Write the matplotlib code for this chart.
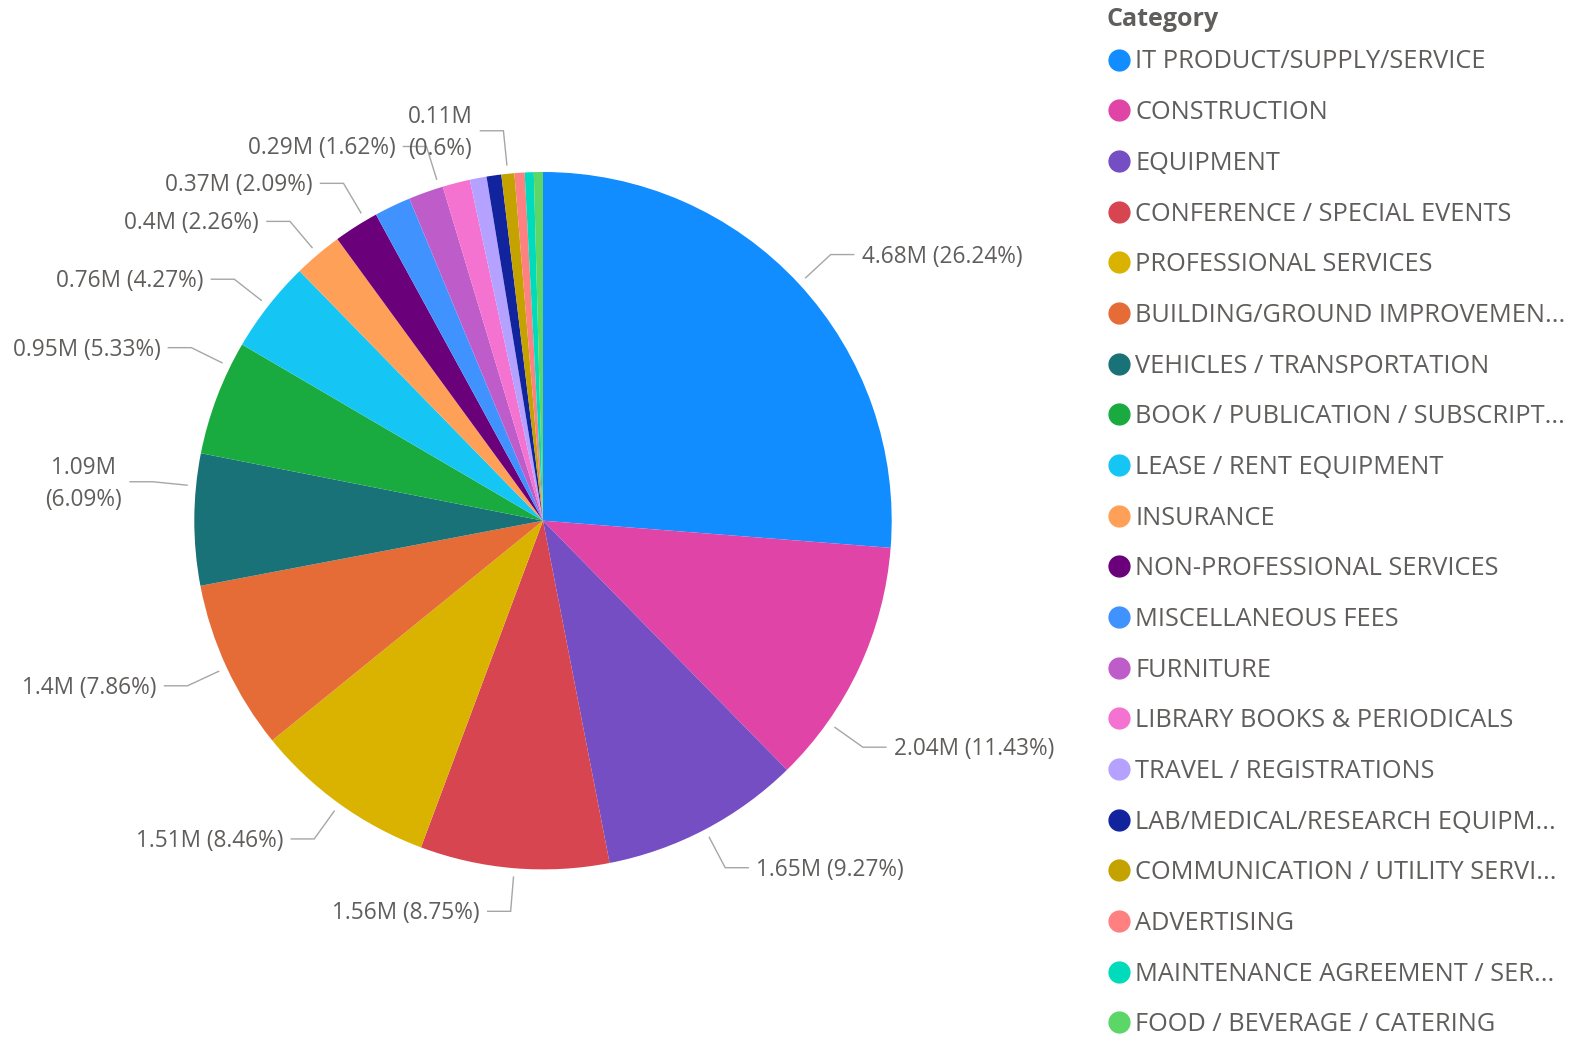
import numpy as np
import matplotlib
matplotlib.use("Agg")
import matplotlib.pyplot as plt
from matplotlib.lines import Line2D

# ---------------- data ----------------
categories = [
    "IT PRODUCT/SUPPLY/SERVICE",
    "CONSTRUCTION",
    "EQUIPMENT",
    "CONFERENCE / SPECIAL EVENTS",
    "PROFESSIONAL SERVICES",
    "BUILDING/GROUND IMPROVEMEN...",
    "VEHICLES / TRANSPORTATION",
    "BOOK / PUBLICATION / SUBSCRIPT...",
    "LEASE / RENT EQUIPMENT",
    "INSURANCE",
    "NON-PROFESSIONAL SERVICES",
    "MISCELLANEOUS FEES",
    "FURNITURE",
    "LIBRARY BOOKS & PERIODICALS",
    "TRAVEL / REGISTRATIONS",
    "LAB/MEDICAL/RESEARCH EQUIPM...",
    "COMMUNICATION / UTILITY SERVI...",
    "ADVERTISING",
    "MAINTENANCE AGREEMENT / SER...",
    "FOOD / BEVERAGE / CATERING",
]
share_pct = [26.24, 11.43, 9.27, 8.75, 8.46, 7.86, 6.09, 5.33, 4.27, 2.26,
             2.09, 1.69, 1.62, 1.27, 0.78, 0.68, 0.60, 0.47, 0.42, 0.42]
total_millions = 17.835
colors = ["#118DFF", "#E044A7", "#744EC2", "#D64550", "#D9B300", "#E66C37",
          "#197278", "#1AAB40", "#15C6F4", "#FFA058", "#6B007B", "#4092FF",
          "#BE5DC9", "#F472D0", "#B5A1FF", "#12239E", "#C4A200", "#FF8080",
          "#00DBBC", "#5BD667"]
values = [p / 100.0 * total_millions for p in share_pct]

# labels that are shown in the reference (others hidden by collision)
labeled = [0, 1, 2, 3, 4, 5, 6, 7, 8, 9, 10, 12, 16]
wrapped = {6, 16}
angle_override = {1: -35.3, 6: 174.3, 7: 153.8, 10: 120.6, 12: 107.3}

# ---------------- layout ----------------
W, H = 1587, 1038
plt.rcParams['font.family'] = ['Open Sans', 'DejaVu Sans']
TXT = "#605E5C"
fig = plt.figure(figsize=(W / 100, H / 100), dpi=100)
ax = fig.add_axes([0, 0, 1, 1])
ax.set_xlim(0, W)
ax.set_ylim(0, H)
ax.axis('off')

cx, cy = 543.0, H - 520.7
R = 348.7
ax.pie(values, colors=colors, startangle=90, counterclock=False,
       center=(cx, cy), radius=R, wedgeprops=dict(linewidth=0))
ax.set_xlim(0, W)
ax.set_ylim(0, H)
ax.set_aspect('equal')

total = sum(values)
cum = 0.0
for i, v in enumerate(values):
    frac = v / total
    mid = 90 - 360 * (cum + frac / 2)
    cum += frac
    if i not in labeled:
        continue
    ang = np.deg2rad(angle_override.get(i, mid))
    c, s = np.cos(ang), np.sin(ang)
    x0, y0 = cx + (R + 9) * c, cy + (R + 9) * s
    x1, y1 = cx + R * 1.124 * c, cy + R * 1.124 * s
    d = 1 if c >= 0 else -1
    x2 = x1 + d * 23
    ax.plot([x0, x1, x2], [y0, y1, y1], color="#A6A6A6", lw=1.0,
            solid_joinstyle='miter')
    pct = frac * 100
    mtxt = f"{round(v, 2):g}M"
    ptxt = f"({round(pct, 2):g}%)"
    label = f"{mtxt}\n{ptxt}" if i in wrapped else f"{mtxt} {ptxt}"
    ax.text(x2 + d * 8, y1 - 2, label, ha='left' if d > 0 else 'right',
            va='center', fontsize=16.3, color=TXT, linespacing=1.45,
            multialignment='center')

fig.text(1107 / W, 1 - 20 / H, "Category", ha='left', va='center',
         fontsize=18, fontweight='bold', color=TXT)
handles = [Line2D([], [], marker='o', linestyle='', markersize=15,
                  markerfacecolor=col, markeredgecolor=col) for col in colors]
leg = fig.legend(handles, categories, loc='upper left',
                 bbox_to_anchor=(1108 / W, 1 - 49.5 / H), frameon=False,
                 fontsize=18.3, labelspacing=1.01, handlelength=0.85,
                 handletextpad=0.22, borderpad=0, borderaxespad=0,
                 labelcolor=TXT)

fig.savefig("out.png", dpi=100, facecolor='white')
